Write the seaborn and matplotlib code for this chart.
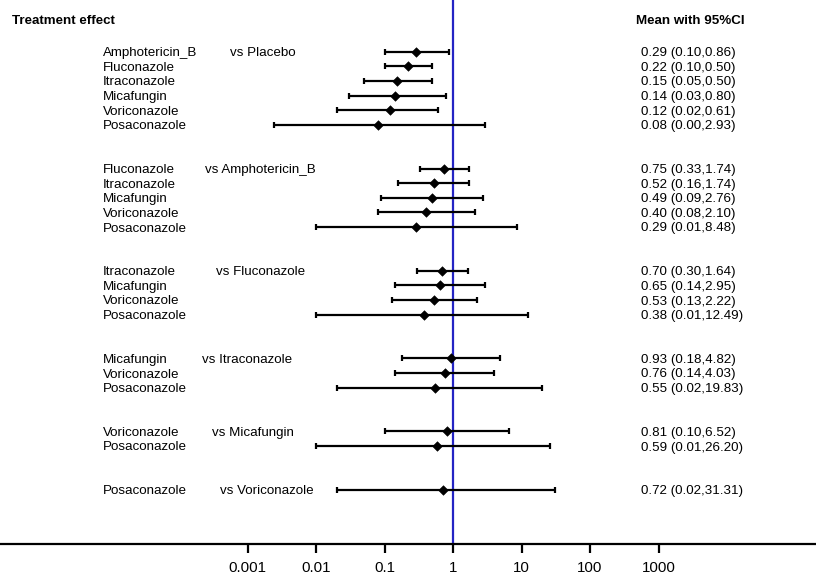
import numpy as np
import pandas as pd
import matplotlib
matplotlib.use("Agg")
import matplotlib.pyplot as plt
import matplotlib.transforms as mtransforms
from matplotlib.ticker import NullLocator
import seaborn as sns

# ---------------- data ----------------
comparators = ["Placebo", "Amphotericin_B", "Fluconazole", "Itraconazole",
               "Micafungin", "Voriconazole"]
treatments = [
    ["Amphotericin_B", "Fluconazole", "Itraconazole", "Micafungin", "Voriconazole", "Posaconazole"],
    ["Fluconazole", "Itraconazole", "Micafungin", "Voriconazole", "Posaconazole"],
    ["Itraconazole", "Micafungin", "Voriconazole", "Posaconazole"],
    ["Micafungin", "Voriconazole", "Posaconazole"],
    ["Voriconazole", "Posaconazole"],
    ["Posaconazole"],
]
means = [0.29, 0.22, 0.15, 0.14, 0.12, 0.08,
         0.75, 0.52, 0.49, 0.40, 0.29,
         0.70, 0.65, 0.53, 0.38,
         0.93, 0.76, 0.55,
         0.81, 0.59,
         0.72]
lowers = [0.10, 0.10, 0.05, 0.03, 0.02, 0.0024,
          0.33, 0.16, 0.09, 0.08, 0.01,
          0.30, 0.14, 0.13, 0.01,
          0.18, 0.14, 0.02,
          0.10, 0.01,
          0.02]
uppers = [0.86, 0.50, 0.50, 0.80, 0.61, 2.93,
          1.74, 1.74, 2.76, 2.10, 8.48,
          1.64, 2.95, 2.22, 12.49,
          4.82, 4.03, 19.83,
          6.52, 26.20,
          31.31]
tick_values = [0.001, 0.01, 0.1, 1, 10, 100, 1000]
tick_labels = ["0.001", "0.01", "0.1", "1", "10", "100", "1000"]

# ---------------- layout (styling) ----------------
group_gap = 2
vs_xpos_px = [230, 205, 216, 202, 212, 220]   # x position of "vs ..." labels
W, H = 816, 576
px_per_decade = 68.5
x_one_px = 453

rows = []
group_first_rows = []
r = 0
for g in treatments:
    group_first_rows.append(r)
    for _ in g:
        rows.append(r)
        r += 1
    r += group_gap

names = [t for g in treatments for t in g]
df = pd.DataFrame({"name": names, "mean": means, "lower": lowers,
                   "upper": uppers, "row": rows})

sns.set_theme(style="white")
plt.rcParams["font.family"] = ["Liberation Sans", "DejaVu Sans"]

fig = plt.figure(figsize=(W / 100, H / 100), dpi=100)
ax = fig.add_axes([0, 1 - 544 / H, 1, 544 / H])

ax.set_xscale("log")
ax.axvline(1, color="#2424c4", lw=1.6, zorder=1)

ax.errorbar(df["mean"], df["row"],
            xerr=[df["mean"] - df["lower"], df["upper"] - df["mean"]],
            fmt="none", ecolor="black", elinewidth=1.6, capsize=2.3,
            capthick=1.6, zorder=2)
sns.scatterplot(data=df, x="mean", y="row", marker="D", color="black",
                edgecolor="black", s=24, zorder=3, ax=ax, legend=False)

row_px0, row_step = 51.8, 14.6
ax.set_ylim((544 - row_px0) / row_step, (0 - row_px0) / row_step)
ax.set_xlim(10 ** (-x_one_px / px_per_decade), 10 ** ((W - x_one_px) / px_per_decade))

ax.set_xticks(tick_values)
ax.set_xticklabels(tick_labels)
ax.xaxis.set_minor_locator(NullLocator())
ax.set_yticks([])
ax.set_xlabel("")
ax.set_ylabel("")
for s in ["left", "right", "top"]:
    ax.spines[s].set_visible(False)
ax.spines["bottom"].set_color("black")
ax.spines["bottom"].set_linewidth(1.6)
ax.tick_params(axis="x", which="major", bottom=True, direction="out",
               length=6.5, width=1.6, color="black", pad=5.5,
               labelsize=10.8, labelcolor="black")

trans = mtransforms.blended_transform_factory(ax.transAxes, ax.transData)
fs = 9.6
hdr_row = (19.5 - row_px0) / row_step
ax.text(12 / W, hdr_row, "Treatment effect", transform=trans, fontsize=fs,
        fontweight="bold", va="center_baseline", ha="left", color="black")
ax.text(636 / W, hdr_row, "Mean with 95%CI", transform=trans, fontsize=fs,
        fontweight="bold", va="center_baseline", ha="left", color="black")

for _, rr in df.iterrows():
    ax.text(103 / W, rr["row"], rr["name"], transform=trans, fontsize=fs,
            va="center_baseline", ha="left", color="black")
    ax.text(641 / W, rr["row"],
            f"{rr['mean']:.2f} ({rr['lower']:.2f},{rr['upper']:.2f})",
            transform=trans, fontsize=fs, va="center_baseline", ha="left",
            color="black")

for comp, r0, xp in zip(comparators, group_first_rows, vs_xpos_px):
    ax.text(xp / W, r0, f"vs {comp}", transform=trans, fontsize=fs,
            va="center_baseline", ha="left", color="black")

fig.savefig("out.png", dpi=100)
